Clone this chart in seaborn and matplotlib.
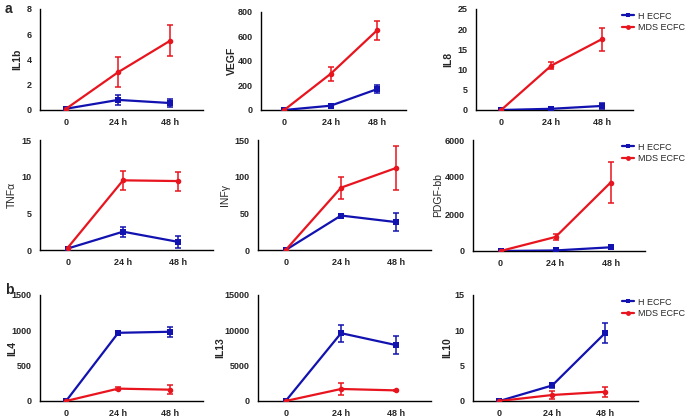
import numpy as np
import pandas as pd
import seaborn as sns
import matplotlib.pyplot as plt

sns.set_style('ticks')
plt.rcParams['font.family'] = ['Liberation Sans', 'DejaVu Sans']
narrow = ['Liberation Sans Narrow', 'Liberation Sans', 'DejaVu Sans']

# time points and tick labels
hours = [0, 24, 48]
hour_labels = ["0", "24 h", "48 h"]
groups = ["H ECFC", "MDS ECFC"]

# cytokine names (y labels) and y-axis tops/ticks
cytokines = ["IL1b", "VEGF", "IL8", "TNFα", "INFγ", "PDGF-bb", "IL4", "IL13", "IL10"]
ytops = [8, 800, 25, 15, 150, 6000, 1500, 15000, 15]
ysteps = [2, 200, 5, 5, 50, 2000, 500, 5000, 5]
bold_label = [True, True, True, False, False, False, True, True, True]

# means and error bars per cytokine
h_mean = {
    "IL1b": [0.1, 0.8, 0.55], "VEGF": [0, 35, 170], "IL8": [0, 0.3, 1.0],
    "TNFα": [0.2, 2.5, 1.1], "INFγ": [0, 47, 38], "PDGF-bb": [0, 30, 200],
    "IL4": [0, 965, 980], "IL13": [0, 9600, 7900], "IL10": [0, 2.2, 9.6],
}
h_err = {
    "IL1b": [0, 0.4, 0.35], "VEGF": [0, 5, 30], "IL8": [0, 0.3, 0.7],
    "TNFα": [0, 0.7, 0.8], "INFγ": [0, 2, 12], "PDGF-bb": [0, 20, 40],
    "IL4": [0, 30, 70], "IL13": [0, 1200, 1300], "IL10": [0, 0.4, 1.4],
}
mds_mean = {
    "IL1b": [0.1, 3.0, 5.5], "VEGF": [0, 295, 650], "IL8": [0, 11, 17.5],
    "TNFα": [0.3, 9.5, 9.4], "INFγ": [0, 85, 112], "PDGF-bb": [0, 760, 3700],
    "IL4": [0, 175, 160], "IL13": [0, 1700, 1500], "IL10": [0, 0.85, 1.3],
}
mds_err = {
    "IL1b": [0, 1.2, 1.2], "VEGF": [0, 55, 80], "IL8": [0, 0.8, 2.9],
    "TNFα": [0, 1.3, 1.3], "INFγ": [0, 15, 30], "PDGF-bb": [0, 150, 1100],
    "IL4": [0, 20, 60], "IL13": [0, 800, 100], "IL10": [0, 0.5, 0.7],
}

colors = {"H ECFC": "#1212b0", "MDS ECFC": "#e8141e"}
markers = {"H ECFC": "s", "MDS ECFC": "o"}

# panel boxes in pixels: left, right, top, bottom; y-label distance from axis
boxes = [
    (40, 203, 9, 110), (261, 406, 12, 110), (476, 633, 9, 110),
    (40, 213, 140, 250), (258, 431, 140, 250), (473, 645, 140, 251),
    (40, 203, 295, 401), (258, 431, 295, 401), (473, 638, 295, 401),
]
ylab_dx = [23, 29, 28, 28, 33, 35, 28, 38, 26]

W, H = 685, 418
fig = plt.figure(figsize=(W / 100, H / 100), dpi=100)

for i, name in enumerate(cytokines):
    l, r, t, b = boxes[i]
    ax = fig.add_axes([l / W, 1 - b / H, (r - l) / W, (b - t) / H])
    df = pd.DataFrame({
        "hour": hours * 2,
        "value": h_mean[name] + mds_mean[name],
        "group": [groups[0]] * 3 + [groups[1]] * 3,
    })
    for g, means, errs in [(groups[0], h_mean[name], h_err[name]),
                           (groups[1], mds_mean[name], mds_err[name])]:
        ax.errorbar(hours, means, yerr=errs, fmt='none', ecolor=colors[g],
                    elinewidth=1.1, capsize=2.5, capthick=1.1, zorder=2)
    sns.lineplot(data=df, x="hour", y="value", hue="group", style="group",
                 palette=colors, markers=markers, dashes=False, lw=1.6,
                 markersize=4, markeredgewidth=0, ax=ax, legend=False,
                 zorder=3)
    ax.set_xlim(-12, 63)
    ax.set_ylim(0, ytops[i])
    ax.set_yticks(np.arange(0, ytops[i] + 1, ysteps[i]))
    ax.set_xticks(hours)
    ax.set_xticklabels(hour_labels)
    ax.set_xlabel("")
    ax.set_ylabel(name, fontsize=7.5, family=narrow, va='center',
                  fontweight='bold' if bold_label[i] else 'normal')
    ax.yaxis.set_label_coords(-ylab_dx[i] / (r - l), 0.5)
    ax.tick_params(axis='x', labelsize=6.5, length=0, pad=6)
    ax.tick_params(axis='y', labelsize=6.5, length=0, pad=6)
    for lab in ax.get_xticklabels() + ax.get_yticklabels():
        lab.set_fontweight('bold')
        lab.set_family(narrow)
    sns.despine(ax=ax)
    for s in ["left", "bottom"]:
        ax.spines[s].set_linewidth(1.0)
        ax.spines[s].set_color("black")

    if i % 3 == 2:
        handles = [plt.Line2D([], [], color=colors[g], marker=markers[g], lw=1.6,
                              markersize=3.5, markeredgewidth=0) for g in groups]
        fig.legend(handles, groups, loc='upper left',
                   bbox_to_anchor=(618 / W, 1 - (t - 1) / H), frameon=False,
                   fontsize=6.5, handlelength=1.4, handletextpad=0.4,
                   labelspacing=0.25, borderaxespad=0)

fig.text(5 / W, 1 - 2 / H, "a", fontsize=10, fontweight='bold', va='top')
fig.text(5 / W, 1 - 283 / H, "b", fontsize=10, fontweight='bold', va='top')

fig.savefig("out.png", dpi=100)
